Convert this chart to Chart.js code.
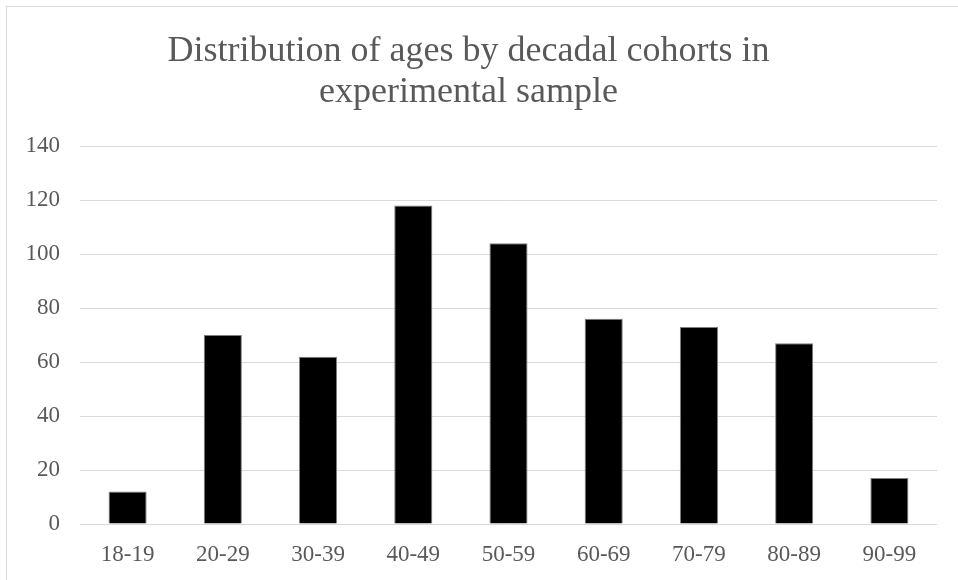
<!DOCTYPE html>
<html>
<head>
<meta charset="utf-8">
<script src="https://cdn.jsdelivr.net/npm/chart.js@4"></script>
<style>
  html, body { margin: 0; padding: 0; background: #fff; overflow: hidden; }
  #wrap { position: relative; width: 958px; height: 580px; }
  #frame {
    position: absolute; left: 6px; top: 6px; width: 1000px; height: 1000px;
    border: 1px solid #d9d9d9; box-sizing: border-box;
  }
  canvas { position: absolute; left: 0; top: 0; }
</style>
</head>
<body>
<div id="wrap">
  <div id="frame"></div>
  <canvas id="ageChart" width="958" height="580"></canvas>
</div>
<script>
// --- DATA ---
const cohorts = ['18-19', '20-29', '30-39', '40-49', '50-59', '60-69', '70-79', '80-89', '90-99'];
const counts = [12, 70, 62, 118, 104, 76, 73, 67, 17];
const yTicks = [0, 20, 40, 60, 80, 100, 120, 140];
const titleLines = ['Distribution of ages by decadal cohorts in', 'experimental sample'];

const serif = "'Liberation Serif', 'Times New Roman', serif";
const grey = '#595959';

new Chart(document.getElementById('ageChart'), {
    type: 'bar',
    data: {
        labels: cohorts,
        datasets: [{
            label: 'Count',
            data: counts,
            backgroundColor: '#000000',
            borderColor: '#7f7f7f',
            borderWidth: 1,
            barPercentage: 0.4,
            categoryPercentage: 1.0
        }]
    },
    options: {
        responsive: false,
        animation: false,
        layout: { padding: { left: 0, right: 21, top: 0, bottom: 0 } },
        plugins: {
            legend: { display: false },
            tooltip: { enabled: false },
            title: {
                display: true,
                text: titleLines,
                color: grey,
                font: { family: serif, size: 36, weight: 'normal', lineHeight: 1.14 },
                padding: { top: 31, bottom: 33 }
            }
        },
        scales: {
            x: {
                grid: { display: false },
                border: { display: false },
                ticks: {
                    color: grey,
                    font: { family: serif, size: 23 },
                    padding: 9,
                    maxRotation: 0
                },
                afterFit: s => { s.height = 56; }
            },
            y: {
                min: 0,
                max: 140,
                afterBuildTicks: s => { s.ticks = yTicks.map(v => ({ value: v })); },
                grid: { color: '#d9d9d9', lineWidth: 1, drawTicks: false },
                border: { display: false },
                ticks: {
                    color: grey,
                    font: { family: serif, size: 23 },
                    padding: 20
                },
                afterFit: s => { s.width = 80; }
            }
        }
    }
});
</script>
</body>
</html>
